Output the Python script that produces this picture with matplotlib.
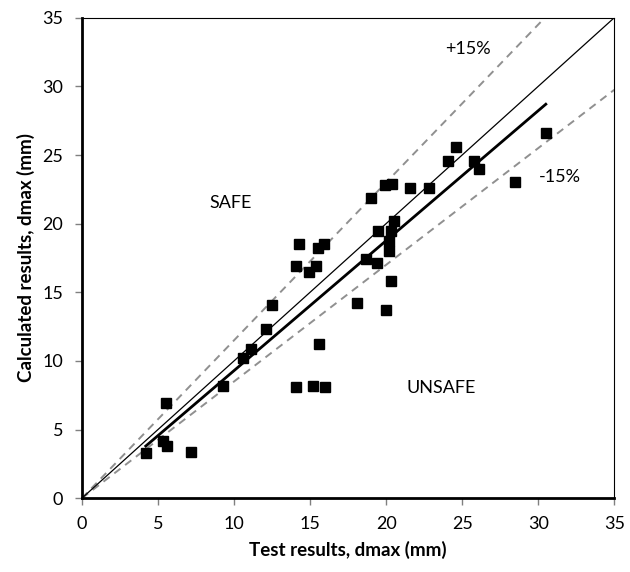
import numpy as np
import matplotlib.pyplot as plt

plt.rcParams['font.family'] = ['Lato', 'DejaVu Sans']

# test vs calculated dmax (mm)
test_dmax = [4.2, 5.3, 5.6, 5.5, 7.2, 9.3, 10.6, 11.1, 12.1, 12.5,
             14.1, 15.2, 16.0, 15.6, 14.1, 14.3, 14.9, 15.4, 15.5, 15.9,
             18.1, 18.7, 19.4, 19.5, 19.0, 19.9, 20.4, 20.0, 20.3, 20.2,
             20.2, 20.3, 20.5, 21.6, 22.8, 24.1, 24.6, 25.8, 26.1, 28.5,
             30.5]
calc_dmax = [3.3, 4.2, 3.8, 6.9, 3.4, 8.2, 10.2, 10.9, 12.3, 14.1,
             8.1, 8.2, 8.1, 11.2, 16.9, 18.5, 16.5, 16.9, 18.2, 18.5,
             14.2, 17.4, 17.1, 19.5, 21.9, 22.8, 22.9, 13.7, 15.8, 18.0,
             18.7, 19.5, 20.2, 22.6, 22.6, 24.6, 25.6, 24.6, 24.0, 23.0,
             26.6]

# trend line end points
trend_x = [4.2, 30.5]
trend_y = [3.8, 28.7]

ref_x = [0, 35]
upper_factor = 1.15
lower_factor = 0.85

fig = plt.figure(figsize=(6.3, 5.72), dpi=100)
ax = fig.add_axes([0.130, 0.129, 0.845, 0.840])

xr = np.array(ref_x, dtype=float)
ax.plot(xr, xr, color='black', lw=0.9, zorder=2)
ax.plot(xr, upper_factor * xr, color='#909090', lw=1.4, ls=(0, (4, 3)), zorder=1)
ax.plot(xr, lower_factor * xr, color='#909090', lw=1.4, ls=(0, (4, 3)), zorder=1)
ax.plot(trend_x, trend_y, color='black', lw=2.0, zorder=3)

ax.plot(test_dmax, calc_dmax, 's', color='black', ms=6.8, zorder=4)

ax.text(25.35, 32.7, '+15%', fontsize=13, ha='center', va='center')
ax.text(31.4, 23.4, '-15%', fontsize=13, ha='center', va='center')
ax.text(9.8, 21.5, 'SAFE', fontsize=13, ha='center', va='center')
ax.text(23.6, 8.0, 'UNSAFE', fontsize=13, ha='center', va='center')

ax.set_xlim(0, 35)
ax.set_ylim(0, 35)
ax.set_xticks(np.arange(0, 36, 5))
ax.set_yticks(np.arange(0, 36, 5))
ax.tick_params(direction='out', length=5, width=1, labelsize=13, color='#808080')
ax.tick_params(axis='x', pad=8)
ax.tick_params(axis='y', pad=8.5)
ax.set_xlabel('Test results, dmax (mm)', fontsize=13.5, fontweight='bold', labelpad=6)
ax.set_ylabel('Calculated results, dmax (mm)', fontsize=13.5, fontweight='bold', labelpad=5)

for side in ['left', 'bottom']:
    ax.spines[side].set_linewidth(2.0)
for side in ['top', 'right']:
    ax.spines[side].set_linewidth(0.8)

fig.savefig('out.png', dpi=100)
